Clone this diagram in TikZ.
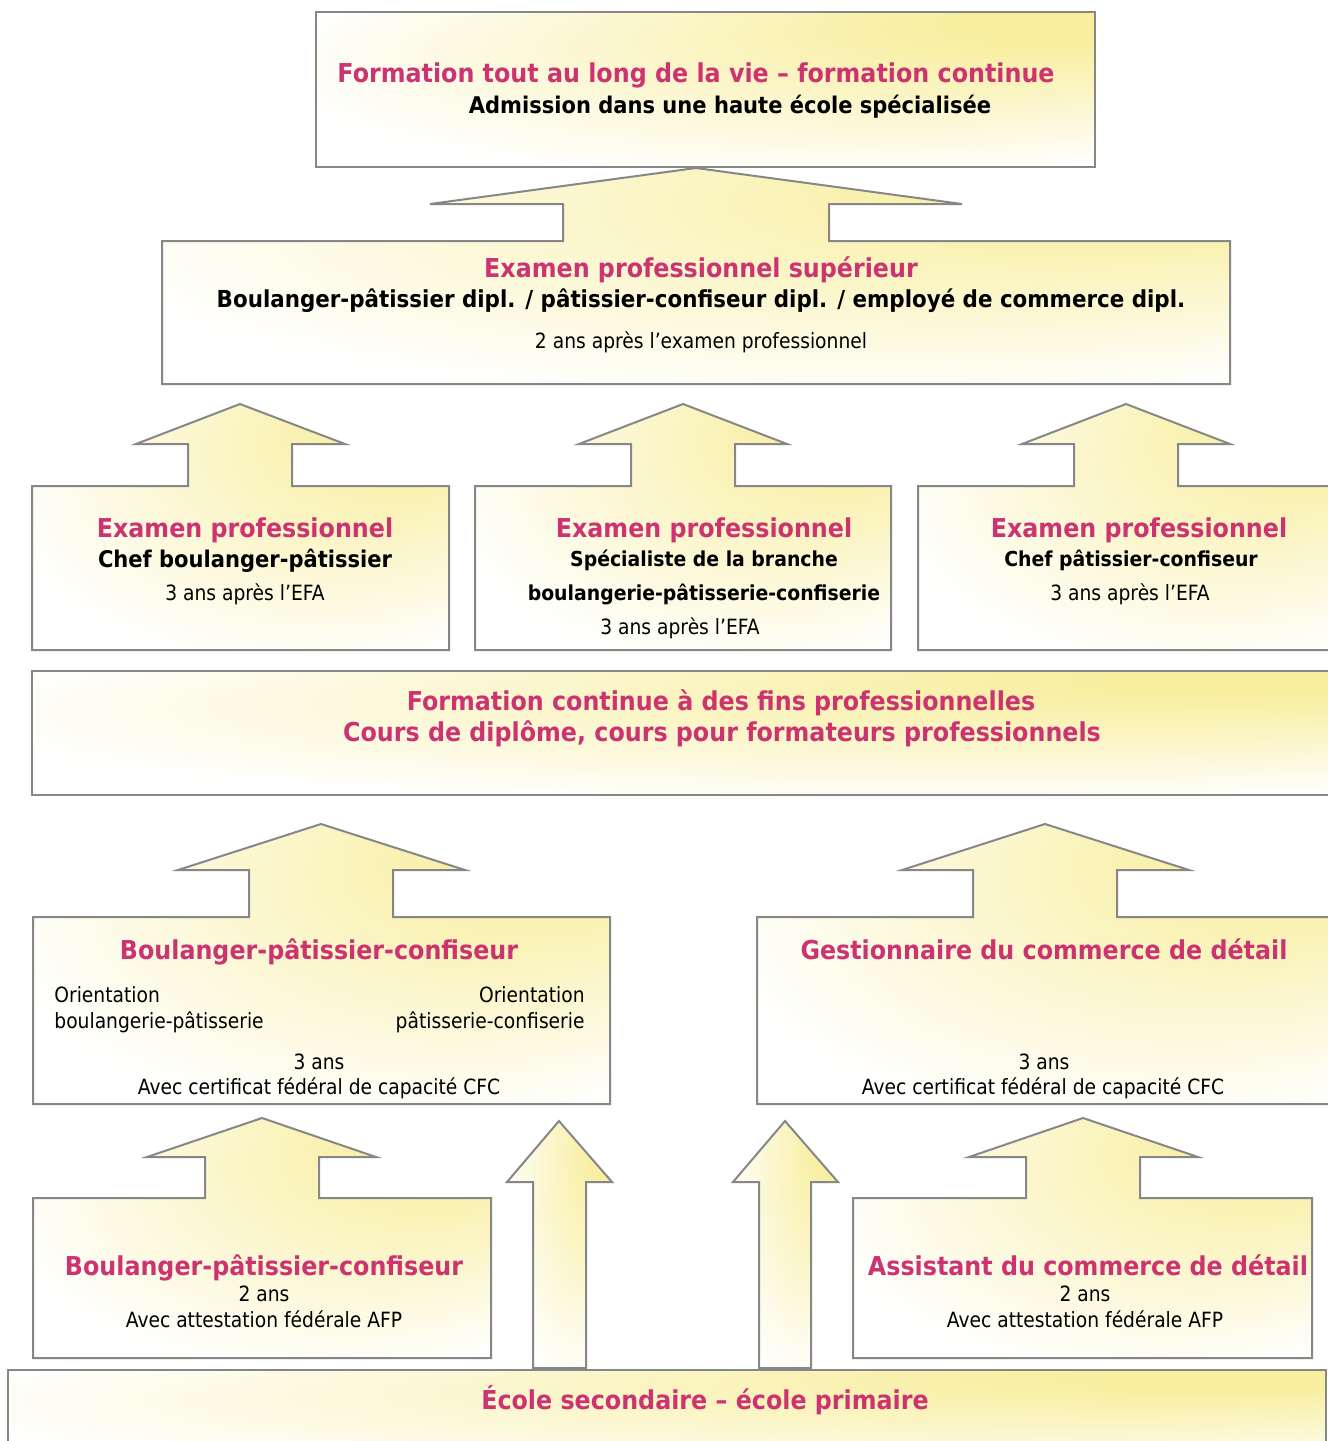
\documentclass[tikz,border=0pt]{standalone}
\usepackage{fontspec}
\setmainfont{DejaVu Sans}
\newfontfamily\dvb[FakeStretch=0.915]{DejaVu Sans}
\newfontfamily\dvr[FakeStretch=0.89]{DejaVu Sans}
\definecolor{yel}{RGB}{248,238,158}
\definecolor{pinktxt}{RGB}{204,51,112}
\definecolor{edge}{RGB}{135,135,135}
\pgfdeclareradialshading{yshade}{\pgfpoint{25bp}{25bp}}{color(0bp)=(yel); color(6bp)=(yel); color(21bp)=(yel!50!white); color(36bp)=(white); color(50bp)=(white)}
\tikzset{
  shp/.style={draw=edge, line width=1pt, shading=yshade, line join=miter},
  pk/.style={font=\dvb\bfseries\fontsize{13}{15}\selectfont, text=pinktxt, inner sep=0pt, anchor=base},
  bk/.style={font=\dvb\bfseries\fontsize{11.5}{13}\selectfont, text=black, inner sep=0pt, anchor=base},
  bks/.style={font=\dvb\bfseries\fontsize{10.3}{12}\selectfont, text=black, inner sep=0pt, anchor=base},
  rg/.style={font=\dvr\fontsize{10.5}{12}\selectfont, text=black, inner sep=0pt, anchor=base},
}
\begin{document}
\begin{tikzpicture}[x=0.5pt,y=-0.5pt]
\clip (0,0) rectangle (1328,1441);
\fill[white] (0,0) rectangle (1328,1441);
% top box
\shade[shp] (316,12) rectangle (1095,167);
% exam sup box with arrow to top
\shade[shp] (162,384) -- (162,241) -- (563,241) -- (563,204) -- (430,204) -- (696,168) -- (962,204) -- (829,204) -- (829,241) -- (1230,241) -- (1230,384) -- cycle;
% row 3 boxes with arrows
\shade[shp] (32,650) -- (32,486) -- (188,486) -- (188,444) -- (136,444) -- (240,404) -- (345,444) -- (292,444) -- (292,486) -- (449,486) -- (449,650) -- cycle;
\shade[shp] (475,650) -- (475,486) -- (631,486) -- (631,444) -- (579,444) -- (683,404) -- (787,444) -- (735,444) -- (735,486) -- (891,486) -- (891,650) -- cycle;
\shade[shp] (918,650) -- (918,486) -- (1074,486) -- (1074,444) -- (1022,444) -- (1126,404) -- (1230,444) -- (1178,444) -- (1178,486) -- (1345,486) -- (1345,650) -- cycle;
% formation continue box
\shade[shp] (32,671) rectangle (1345,795);
% row 5 boxes with arrows
\shade[shp] (33,1104) -- (33,917) -- (249,917) -- (249,870) -- (178,870) -- (321,824) -- (465,870) -- (393,870) -- (393,917) -- (610,917) -- (610,1104) -- cycle;
\shade[shp] (757,1104) -- (757,917) -- (973,917) -- (973,870) -- (902,870) -- (1045,824) -- (1189,870) -- (1117,870) -- (1117,917) -- (1345,917) -- (1345,1104) -- cycle;
% row 6 boxes with arrows
\shade[shp] (33,1358) -- (33,1198) -- (205,1198) -- (205,1157) -- (147,1157) -- (262,1118) -- (376,1157) -- (319,1157) -- (319,1198) -- (491,1198) -- (491,1358) -- cycle;
\shade[shp] (853,1358) -- (853,1198) -- (1026,1198) -- (1026,1157) -- (969,1157) -- (1083,1118) -- (1198,1157) -- (1140,1157) -- (1140,1198) -- (1312,1198) -- (1312,1358) -- cycle;
% tall arrows
\shade[shp] (533,1368) -- (533,1182) -- (507,1182) -- (559,1121) -- (612,1182) -- (586,1182) -- (586,1368) -- cycle;
\shade[shp] (759,1368) -- (759,1182) -- (733,1182) -- (785,1121) -- (838,1182) -- (811,1182) -- (811,1368) -- cycle;
% bottom box
\shade[shp] (8,1370) rectangle (1326,1470);

% texts
\node[pk] (t1) at (696,82) {Formation tout au long de la vie – formation continue};
\node[bk] (t2) at (730,113) {Admission dans une haute école spécialisée};
\node[pk] (s1) at (701,277) {Examen professionnel supérieur};
\node[bk,font=\dvb\bfseries\fontsize{11.7}{13}\selectfont] (s2) at (701,307) {Boulanger-pâtissier dipl. / pâtissier-confiseur dipl. / employé de commerce dipl.};
\node[rg] (s3) at (701,348) {2 ans après l’examen professionnel};

\node[pk] (a1) at (245,537) {Examen professionnel};
\node[bk] (a2) at (245,567) {Chef boulanger-pâtissier};
\node[rg] (a3) at (245,600) {3 ans après l’EFA};

\node[pk] (b1) at (704,537) {Examen professionnel};
\node[bks] (b2) at (704,566) {Spécialiste de la branche};
\node[bks] (b3) at (704,600) {boulangerie-pâtisserie-confiserie};
\node[rg] (b4) at (680,634) {3 ans après l’EFA};

\node[pk] (c1) at (1139,537) {Examen professionnel};
\node[bks] (c2) at (1131,566) {Chef pâtissier-confiseur};
\node[rg] (c3) at (1130,600) {3 ans après l’EFA};

\node[pk] (f1) at (721,710) {Formation continue à des fins professionnelles};
\node[pk] (f2) at (722,741) {Cours de diplôme, cours pour formateurs professionnels};

\node[pk] (d1) at (319,959) {Boulanger-pâtissier-confiseur};
\node[rg,anchor=base west] (d2) at (54,1002) {Orientation};
\node[rg,anchor=base west] (d3) at (54,1028) {boulangerie-pâtisserie};
\node[rg,anchor=base east] (d4) at (585,1002) {Orientation};
\node[rg,anchor=base east] (d5) at (585,1028) {pâtisserie-confiserie};
\node[rg] (d6) at (319,1069) {3 ans};
\node[rg] (d7) at (319,1094) {Avec certificat fédéral de capacité CFC};

\node[pk] (e1) at (1044,959) {Gestionnaire du commerce de détail};
\node[rg] (e2) at (1044,1069) {3 ans};
\node[rg] (e3) at (1043,1094) {Avec certificat fédéral de capacité CFC};

\node[pk] (g1) at (264,1275) {Boulanger-pâtissier-confiseur};
\node[rg] (g2) at (264,1301) {2 ans};
\node[rg] (g3) at (264,1327) {Avec attestation fédérale AFP};

\node[pk] (h1) at (1088,1275) {Assistant du commerce de détail};
\node[rg] (h2) at (1085,1301) {2 ans};
\node[rg] (h3) at (1085,1327) {Avec attestation fédérale AFP};

\node[pk] (z1) at (705,1409) {École secondaire – école primaire};
\end{tikzpicture}
\end{document}
